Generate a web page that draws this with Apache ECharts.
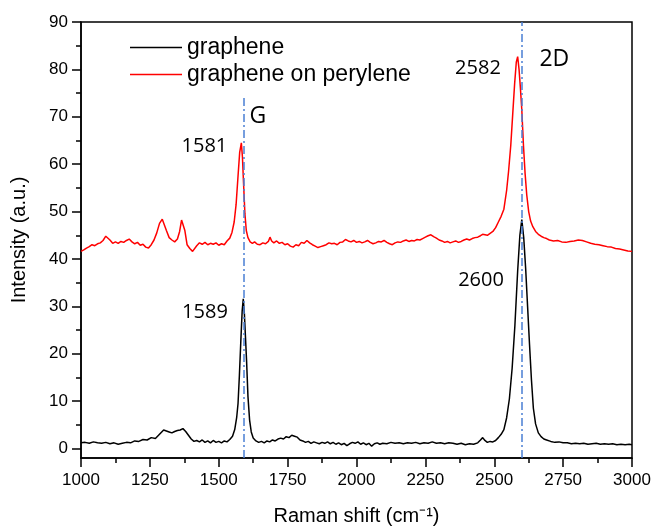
<!DOCTYPE html>
<html lang="en">
<head>
	<meta charset="UTF-8">
	<title>Raman spectra</title>
	<style>
		* {
			margin: 0;
			padding: 0;
		}

		#box {
			width: 655px;
			height: 527px;
		}
	</style>
	<script src="https://cdn.jsdelivr.net/npm/echarts@6/dist/echarts.min.js"></script>
</head>
<body>
<div id="box"></div>
</body>
<script>
	// 曲线数据 [Raman shift, intensity]
	const grapheneSpectrum = [
		[1000, 1.2], [1015, 1.3], [1030, 1.1], [1045, 1.4], [1060, 1.2], [1075, 1.1], [1090, 1.3], [1105, 1.0],
		[1120, 1.2], [1135, 0.9], [1150, 1.1], [1165, 1.3], [1180, 1.2], [1195, 1.6], [1210, 1.5], [1225, 1.9],
		[1240, 1.8], [1255, 2.3], [1270, 2.1], [1285, 3.0], [1300, 3.9], [1310, 3.7], [1320, 3.5], [1330, 3.3],
		[1340, 3.6], [1350, 3.8], [1360, 3.9], [1370, 4.2], [1380, 3.6], [1390, 2.8], [1400, 2.0], [1410, 1.5],
		[1420, 1.7], [1430, 1.4], [1440, 1.8], [1450, 1.3], [1460, 1.6], [1470, 1.2], [1480, 1.7], [1490, 1.3],
		[1500, 1.5], [1510, 1.2], [1520, 1.6], [1530, 1.4], [1540, 1.9], [1550, 2.6], [1558, 4.0], [1565, 6.5],
		[1570, 9.5], [1575, 15.5], [1580, 22.5], [1585, 29.0], [1589, 31.6], [1593, 28.5], [1597, 23.5], [1601, 18.5],
		[1606, 11.0], [1612, 6.0], [1618, 3.5], [1625, 2.2], [1635, 1.6], [1645, 1.3], [1655, 1.5], [1665, 1.2],
		[1675, 1.6], [1685, 1.4], [1695, 1.8], [1705, 1.6], [1715, 2.0], [1725, 2.2], [1735, 2.0], [1745, 2.5],
		[1755, 2.3], [1765, 2.8], [1775, 2.6], [1785, 2.4], [1795, 1.8], [1805, 1.6], [1815, 1.3], [1825, 1.5],
		[1835, 1.1], [1845, 1.4], [1855, 1.2], [1865, 1.0], [1875, 1.3], [1885, 1.1], [1895, 1.4], [1905, 1.0],
		[1915, 1.3], [1925, 0.9], [1935, 1.2], [1945, 0.8], [1955, 1.1], [1965, 0.6], [1975, 1.0], [1985, 1.3],
		[1995, 1.1], [2005, 1.4], [2015, 0.9], [2025, 1.2], [2035, 0.8], [2045, 1.1], [2055, 0.5], [2065, 1.0],
		[2075, 1.2], [2085, 0.9], [2095, 1.1], [2110, 1.0], [2125, 1.3], [2140, 1.1], [2155, 1.2], [2170, 1.0],
		[2185, 1.2], [2200, 1.1], [2215, 1.3], [2230, 1.0], [2245, 1.2], [2260, 1.1], [2275, 1.4], [2290, 1.1],
		[2305, 1.2], [2320, 1.0], [2335, 1.2], [2350, 1.1], [2365, 0.9], [2380, 1.1], [2395, 0.8], [2410, 1.0],
		[2425, 0.9], [2440, 1.2], [2450, 1.8], [2458, 2.3], [2466, 1.7], [2475, 1.3], [2485, 1.5], [2495, 1.4],
		[2505, 1.7], [2515, 2.3], [2525, 3.0], [2535, 4.0], [2545, 6.5], [2555, 10.5], [2565, 17.0], [2575, 26.0],
		[2585, 37.5], [2593, 45.0], [2600, 48.3], [2607, 44.5], [2614, 38.0], [2621, 30.0], [2628, 22.0], [2635, 14.5],
		[2642, 8.5], [2650, 5.2], [2660, 3.3], [2670, 2.5], [2680, 2.0], [2690, 1.8], [2705, 1.5], [2720, 1.3],
		[2735, 1.4], [2750, 1.2], [2765, 1.2], [2780, 1.0], [2795, 1.1], [2810, 1.0], [2825, 1.1], [2840, 0.9],
		[2855, 1.0], [2870, 1.1], [2885, 0.9], [2900, 1.0], [2915, 0.9], [2930, 1.0], [2945, 0.8], [2960, 0.9],
		[2975, 0.8], [2990, 0.9], [3000, 0.8]
	];

	const peryleneSpectrum = [
		[1000, 41.6], [1010, 41.9], [1020, 42.3], [1030, 42.6], [1040, 43.0], [1050, 42.8], [1060, 43.2], [1070, 43.4],
		[1080, 43.9], [1090, 44.8], [1096, 45.1], [1105, 44.0], [1115, 43.3], [1125, 43.6], [1135, 43.3], [1145, 43.7],
		[1155, 43.5], [1165, 43.9], [1175, 44.2], [1185, 43.6], [1195, 43.2], [1205, 43.5], [1215, 42.9], [1225, 43.1],
		[1235, 42.5], [1245, 42.3], [1255, 43.0], [1265, 44.0], [1275, 45.5], [1285, 47.5], [1295, 48.4], [1302, 48.0],
		[1310, 46.0], [1320, 44.5], [1330, 44.0], [1340, 43.6], [1350, 44.2], [1358, 45.8], [1365, 48.2], [1370, 48.3],
		[1377, 46.0], [1385, 43.0], [1395, 42.2], [1405, 41.6], [1412, 42.0], [1420, 42.8], [1430, 43.4], [1440, 43.1],
		[1450, 43.5], [1460, 43.0], [1470, 43.3], [1480, 43.1], [1490, 43.4], [1500, 42.9], [1510, 43.2], [1520, 43.0],
		[1530, 43.8], [1540, 44.4], [1548, 45.6], [1556, 47.8], [1563, 51.5], [1570, 57.5], [1576, 62.5], [1582, 64.5],
		[1586, 61.5], [1590, 56.0], [1595, 49.5], [1600, 46.0], [1606, 44.5], [1614, 43.6], [1622, 43.3], [1630, 43.6],
		[1640, 43.1], [1650, 43.0], [1660, 43.4], [1670, 43.2], [1680, 43.7], [1686, 44.6], [1692, 43.8], [1700, 43.4],
		[1710, 43.8], [1720, 43.3], [1730, 43.5], [1740, 43.0], [1750, 43.2], [1760, 42.7], [1770, 42.5], [1780, 43.0],
		[1790, 42.8], [1800, 43.5], [1810, 43.3], [1820, 43.9], [1830, 43.4], [1840, 43.0], [1850, 42.7], [1860, 42.4],
		[1870, 42.6], [1880, 42.8], [1890, 43.0], [1900, 43.4], [1910, 43.2], [1920, 43.3], [1930, 43.0], [1940, 43.5],
		[1950, 43.6], [1960, 44.1], [1970, 43.8], [1980, 43.6], [1990, 43.9], [2000, 43.5], [2010, 43.7], [2020, 43.4],
		[2030, 43.6], [2040, 43.9], [2050, 43.5], [2060, 43.2], [2070, 43.4], [2080, 43.7], [2090, 43.6], [2100, 43.9],
		[2110, 43.5], [2120, 43.2], [2130, 43.0], [2140, 43.4], [2150, 43.6], [2160, 43.5], [2170, 43.8], [2180, 44.0],
		[2190, 43.7], [2200, 43.9], [2210, 43.8], [2220, 44.1], [2230, 44.0], [2240, 44.3], [2250, 44.6], [2260, 44.9],
		[2270, 45.1], [2280, 44.7], [2290, 44.4], [2300, 44.0], [2310, 43.8], [2320, 43.5], [2330, 43.7], [2340, 43.4],
		[2350, 43.6], [2360, 43.8], [2370, 43.5], [2380, 43.7], [2390, 44.0], [2400, 44.2], [2410, 44.0], [2420, 44.3],
		[2430, 44.5], [2440, 44.6], [2450, 44.9], [2458, 45.2], [2465, 44.8], [2475, 45.0], [2485, 45.4], [2495, 45.8],
		[2505, 46.6], [2515, 47.8], [2525, 49.0], [2535, 50.5], [2545, 54.5], [2552, 58.5], [2560, 64.0], [2567, 70.5],
		[2574, 77.0], [2580, 81.5], [2585, 82.7], [2590, 80.0], [2595, 76.0], [2600, 71.5], [2606, 64.0], [2612, 58.0],
		[2618, 53.5], [2625, 50.0], [2632, 48.0], [2640, 46.8], [2650, 45.8], [2660, 45.2], [2670, 44.8], [2680, 44.5],
		[2690, 44.3], [2700, 44.0], [2715, 43.8], [2730, 43.9], [2745, 43.6], [2760, 43.5], [2775, 43.7], [2790, 43.8],
		[2805, 44.0], [2820, 43.9], [2835, 43.6], [2850, 43.3], [2865, 43.1], [2880, 43.0], [2895, 42.8], [2910, 42.6],
		[2925, 42.5], [2940, 42.2], [2955, 42.1], [2970, 41.9], [2985, 41.7], [3000, 41.6]
	];

	// 坐标轴刻度
	const yMajorTicks = [0, 10, 20, 30, 40, 50, 60, 70, 80, 90];
	const yMinorTicks = [5, 15, 25, 35, 45, 55, 65, 75, 85];

	// 峰位虚线 [shift, 顶端 intensity]
	const peakLines = [[1589, 74], [2600, 90]];

	// 标注文字 [shift, intensity, text]
	const peakLabels = [
		[1448, 63.7, '1581'],
		[1642, 70.0, 'G'],
		[1450, 28.8, '1589'],
		[2441, 80.3, '2582'],
		[2718, 82.0, '2D'],
		[2452, 35.5, '2600'],
	];

	const myEcharts = echarts.init(document.getElementById('box'));

	const axisFont = 'Liberation Sans';

	myEcharts.setOption({
		animation: false,
		grid: {
			left: 81,
			right: 23,
			top: 22,
			bottom: 69,
			outerBoundsMode: 'none',
			show: true,
			borderColor: '#000',
			borderWidth: 1.5,
		},
		legend: {
			data: ['graphene', 'graphene on perylene'],
			orient: 'vertical',
			left: 125,
			top: 31,
			icon: 'rect',
			itemWidth: 52,
			itemHeight: 1.5,
			itemGap: 4,
			textStyle: {
				fontFamily: axisFont,
				fontSize: 23,
				color: '#000',
			},
		},
		xAxis: {
			type: 'value',
			min: 1000,
			max: 3000,
			interval: 250,
			name: 'Raman shift (cm⁻¹)',
			nameLocation: 'middle',
			nameGap: 48,
			nameTextStyle: {fontFamily: axisFont, fontSize: 20, color: '#000'},
			axisLine: {onZero: false, lineStyle: {color: '#000', width: 1.5}},
			axisTick: {inside: false, length: 9, lineStyle: {color: '#000', width: 1.5}},
			minorTick: {show: true, splitNumber: 2, length: 5, lineStyle: {color: '#000', width: 1.5}},
			axisLabel: {
				fontFamily: axisFont, fontSize: 17, color: '#000', margin: 14,
				formatter: function (v) {
					return String(v);
				},
			},
			splitLine: {show: false},
		},
		yAxis: [
			{
				type: 'value',
				min: -2,
				max: 90,
				position: 'left',
				name: 'Intensity (a.u.)',
				nameLocation: 'middle',
				nameGap: 52,
				nameTextStyle: {fontFamily: axisFont, fontSize: 20, color: '#000'},
				axisLine: {show: true, lineStyle: {color: '#000', width: 1.5}},
				axisTick: {show: true, length: 9, customValues: yMajorTicks, lineStyle: {color: '#000', width: 1.5}},
				axisLabel: {customValues: yMajorTicks, fontFamily: axisFont, fontSize: 17, color: '#000', margin: 13},
				splitLine: {show: false},
			},
			{
				// 次刻度
				type: 'value',
				min: -2,
				max: 90,
				position: 'left',
				axisLine: {show: false},
				axisTick: {show: true, length: 5, customValues: yMinorTicks, lineStyle: {color: '#000', width: 1.5}},
				axisLabel: {show: false},
				splitLine: {show: false},
			},
		],
		series: [
			{
				name: 'graphene',
				type: 'line',
				data: grapheneSpectrum,
				symbol: 'none',
				lineStyle: {color: '#000', width: 1.5},
				itemStyle: {color: '#000'},
				z: 3,
				markLine: {
					silent: true,
					symbol: 'none',
					label: {show: false},
					lineStyle: {color: '#4a7fd4', width: 1.5, type: [8, 3, 2, 3]},
					data: peakLines.map(function (p) {
						return [{coord: [p[0], -2]}, {coord: [p[0], p[1]]}];
					}),
				},
			},
			{
				name: 'graphene on perylene',
				type: 'line',
				data: peryleneSpectrum,
				symbol: 'none',
				lineStyle: {color: '#ff0000', width: 1.5},
				itemStyle: {color: '#ff0000'},
				z: 2,
			},
			{
				name: 'labels',
				type: 'scatter',
				symbolSize: 0,
				silent: true,
				z: 5,
				itemStyle: {opacity: 1, color: '#000'},
				data: peakLabels.map(function (p) {
					const big = p[2].length < 4;
					return {
						value: [p[0], p[1]],
						label: {
							show: true,
							position: 'inside',
							formatter: p[2],
							fontFamily: 'Open Sans',
							fontSize: big ? 23 : 20,
							color: '#000',
							textBorderWidth: 0,
						},
					};
				}),
			},
		],
	});
</script>
</html>
